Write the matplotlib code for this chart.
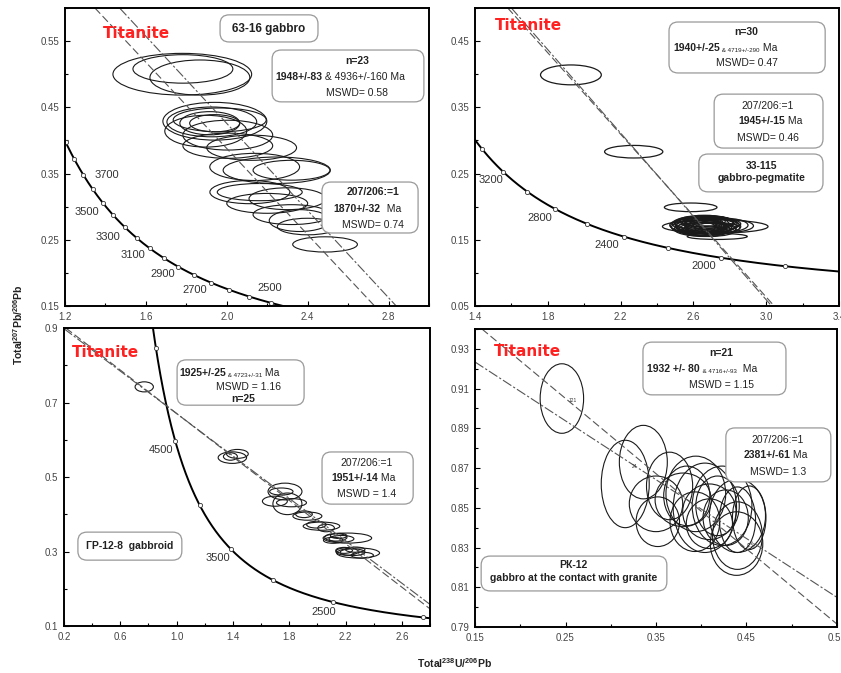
import numpy as np
import matplotlib
matplotlib.use("Agg")
import matplotlib.pyplot as plt
from matplotlib.patches import Ellipse, FancyBboxPatch

plt.rcParams['font.family'] = ['Liberation Sans', 'DejaVu Sans']
plt.rcParams['mathtext.default'] = 'regular'

# decay constants (1/Ma) and present day 238U/235U
L238 = 1.55125e-4
L235 = 9.8485e-4
U_RATIO = 137.88
CURVE_AGES = np.arange(500, 5600, 5)

# ---------------- 63-16 gabbro ----------------
tl_x = [1.780, 1.783, 1.867, 1.941, 1.926, 1.916, 1.940, 1.896, 2.005, 1.965, 2.005, 2.123,
        2.138, 2.247, 2.320, 2.114, 2.163, 2.300, 2.320, 2.360, 2.486, 2.200, 2.400]
tl_y = [0.500, 0.508, 0.495, 0.429, 0.428, 0.426, 0.426, 0.414, 0.408, 0.431, 0.392, 0.389,
        0.360, 0.355, 0.355, 0.322, 0.322, 0.312, 0.288, 0.279, 0.243, 0.305, 0.270]
tl_w = [0.686, 0.494, 0.494, 0.514, 0.444, 0.296, 0.247, 0.405, 0.444, 0.460, 0.444, 0.444,
        0.444, 0.530, 0.380, 0.395, 0.420, 0.380, 0.380, 0.300, 0.320, 0.400, 0.300]
tl_h = [0.063, 0.043, 0.053, 0.057, 0.045, 0.035, 0.026, 0.048, 0.045, 0.036, 0.038, 0.038,
        0.041, 0.040, 0.030, 0.035, 0.026, 0.033, 0.030, 0.033, 0.023, 0.030, 0.025]
tl_lines = [((1.348, 0.60), (2.731, 0.15)), ((1.470, 0.60), (2.838, 0.15))]
tl_marks = list(range(2300, 4001, 100))
tl_labels = [3700, 3500, 3300, 3100, 2900, 2700, 2500]
tl_label_off = [(17, 0), (-11.5, -6.5), (-12, -7), (-12, -5), (-11.5, -5), (-11.5, -5), (14.5, 6.5)]

# ---------------- 33-115 gabbro-pegmatite ----------------
tr_x = [1.927, 2.272, 2.585, 2.731, 2.72,
        2.62, 2.64, 2.66, 2.68, 2.70, 2.63, 2.65, 2.67, 2.69, 2.72, 2.60, 2.75, 2.66,
        2.68, 2.64, 2.70, 2.62, 2.73, 2.67, 2.65, 2.69, 2.71, 2.66, 2.63, 2.78]
tr_y = [0.399, 0.283, 0.199, 0.155, 0.170,
        0.172, 0.170, 0.175, 0.168, 0.173, 0.166, 0.178, 0.171, 0.165, 0.174, 0.169, 0.172, 0.163,
        0.176, 0.174, 0.167, 0.171, 0.168, 0.173, 0.169, 0.177, 0.170, 0.166, 0.175, 0.171]
tr_w = [0.334, 0.320, 0.289, 0.330, 0.580,
        0.30, 0.28, 0.32, 0.26, 0.30, 0.27, 0.25, 0.33, 0.29, 0.28, 0.24, 0.30, 0.26,
        0.28, 0.31, 0.27, 0.29, 0.25, 0.34, 0.27, 0.26, 0.30, 0.28, 0.27, 0.30]
tr_h = [0.030, 0.019, 0.013, 0.009, 0.020,
        0.022, 0.020, 0.024, 0.018, 0.022, 0.020, 0.016, 0.024, 0.020, 0.018, 0.020, 0.022, 0.016,
        0.020, 0.024, 0.018, 0.022, 0.016, 0.026, 0.020, 0.018, 0.022, 0.020, 0.018, 0.020]
tr_lines = [((1.58, 0.50), (3.044, 0.05)), ((1.60, 0.50), (3.03, 0.05))]
tr_marks = list(range(1600, 3401, 200))
tr_labels = [3200, 2800, 2400, 2000]
tr_label_off = [(-9, -6), (-11, -6.5), (-12, -6), (-12, -6)]

# ---------------- GR-12-8 gabbroid ----------------
bl_x = [0.770, 1.396, 1.432, 1.382, 1.770, 1.787, 1.698, 1.816, 1.744, 1.929, 1.905, 2.029, 2.062,
        1.993, 2.213, 2.131, 2.171, 2.112, 2.151, 2.289, 2.210, 2.250, 2.190, 2.269, 2.319]
bl_y = [0.742, 0.552, 0.562, 0.555, 0.461, 0.428, 0.435, 0.431, 0.461, 0.395, 0.400, 0.368, 0.363,
        0.372, 0.336, 0.338, 0.334, 0.330, 0.342, 0.296, 0.300, 0.298, 0.303, 0.305, 0.290]
bl_w = [0.130, 0.202, 0.154, 0.099, 0.241, 0.206, 0.177, 0.213, 0.166, 0.206, 0.118, 0.260, 0.118,
        0.138, 0.345, 0.158, 0.177, 0.138, 0.118, 0.305, 0.158, 0.177, 0.118, 0.138, 0.158]
bl_h = [0.027, 0.031, 0.024, 0.020, 0.045, 0.058, 0.027, 0.022, 0.019, 0.022, 0.018, 0.022, 0.020,
        0.018, 0.027, 0.020, 0.018, 0.016, 0.014, 0.027, 0.020, 0.018, 0.016, 0.014, 0.016]
bl_lines = [((0.0, 0.962), (2.8, 0.146)), ((0.0, 0.955), (2.8, 0.158))]
bl_marks = list(range(2000, 5001, 500))
bl_labels = [4500, 3500, 2500]
bl_label_off = [(-10, -6.5), (-9.5, -6.5), (-7, -7)]

# ---------------- PK-12 gabbro at the contact with granite ----------------
br_x = [0.246, 0.316, 0.336, 0.350, 0.365, 0.352, 0.394, 0.404, 0.409, 0.423, 0.440,
        0.440, 0.439, 0.393, 0.409, 0.440, 0.453, 0.384, 0.418, 0.380, 0.427]
br_y = [0.905, 0.862, 0.873, 0.852, 0.861, 0.843, 0.857, 0.850, 0.848, 0.851, 0.846,
        0.836, 0.832, 0.843, 0.842, 0.844, 0.845, 0.856, 0.851, 0.854, 0.845]
br_w = [0.048, 0.053, 0.053, 0.059, 0.051, 0.048, 0.066, 0.070, 0.059, 0.066, 0.062,
        0.055, 0.058, 0.055, 0.051, 0.040, 0.037, 0.051, 0.048, 0.062, 0.050]
br_h = [0.035, 0.044, 0.037, 0.028, 0.034, 0.025, 0.038, 0.045, 0.028, 0.040, 0.037,
        0.034, 0.032, 0.030, 0.025, 0.033, 0.032, 0.030, 0.030, 0.027, 0.028]
br_lines = [((0.159, 0.9395), (0.547, 0.7926)), ((0.152, 0.9228), (0.547, 0.8058))]
br_spot_ids = ['121', '24', '(25)']
br_spot_x = [0.258, 0.326, 0.455]
br_spot_y = [0.904, 0.871, 0.831]

BOX_FS = 7.5


def concordia(t):
    e8 = np.exp(L238 * np.asarray(t, dtype=float)) - 1.0
    e5 = np.exp(L235 * np.asarray(t, dtype=float)) - 1.0
    return 1.0 / e8, e5 / (U_RATIO * e8)


def setup(ax, xlim, ylim, xt, yt, xminor, yminor):
    ax.set_xlim(xlim)
    ax.set_ylim(ylim)
    ax.set_xticks(xt)
    ax.set_yticks(yt)
    ax.set_xticks(xminor, minor=True)
    ax.set_yticks(yminor, minor=True)
    ax.tick_params(which='both', direction='in', top=False, right=False,
                   labelsize=7, labelcolor='#444', pad=4, width=0.8)
    ax.tick_params(which='major', length=3.5)
    ax.tick_params(which='minor', length=2)
    for s in ax.spines.values():
        s.set_linewidth(1.4)


def draw_ellipses(ax, xs, ys, ws, hs, lw=0.8):
    for cx, cy, w, h in zip(xs, ys, ws, hs):
        ax.add_patch(Ellipse((cx, cy), w, h, fill=False, ec='#1a1a1a', lw=lw))


def draw_lines(ax, lines):
    ax.axline(lines[0][0], lines[0][1], color='#555', lw=0.8, ls=(0, (7, 3)))
    ax.axline(lines[1][0], lines[1][1], color='#555', lw=0.8, ls=(0, (9, 2, 2, 2)))


def draw_concordia(ax, marks, labels, offsets):
    cx, cy = concordia(CURVE_AGES)
    ax.plot(cx, cy, color='black', lw=1.4)
    mx, my = concordia(marks)
    ax.plot(mx, my, 'o', ms=3, mfc='white', mec='#333', mew=0.6)
    for age, off in zip(labels, offsets):
        px, py = concordia(age)
        ax.annotate(str(age), (px, py), xytext=off, textcoords='offset points',
                    ha='center', va='center', fontsize=8, color='#333')


def box(ax, x0, y0, x1, y1):
    ax.add_patch(FancyBboxPatch((x0, y0), x1 - x0, y1 - y0, transform=ax.transAxes,
                                boxstyle='round,pad=0,rounding_size=0.025',
                                mutation_aspect=1.2, fc='white', ec='#999', lw=0.9, zorder=5))


def line(ax, x, y, s, bold=False, size=BOX_FS, ha='center'):
    return ax.text(x, y, s, transform=ax.transAxes, ha=ha, va='center', fontsize=size,
                   fontweight='bold' if bold else 'normal', color='#222', zorder=6)


def parts(ax, x, y, segs):
    # segments drawn one after another: (text, bold, size)
    t = ax.text(x, y, segs[0][0], transform=ax.transAxes, ha='left', va='baseline',
                fontsize=segs[0][2], fontweight='bold' if segs[0][1] else 'normal',
                color='#222', zorder=6)
    for s, b, sz in segs[1:]:
        t = ax.annotate(s, xy=(1, 0), xycoords=t, ha='left', va='bottom', fontsize=sz,
                        fontweight='bold' if b else 'normal', color='#222', zorder=6)


def titanite(ax, x, y):
    ax.text(x, y, 'Titanite', transform=ax.transAxes, ha='center', va='center',
            fontsize=11, fontweight='bold', color='#ff2020', family='DejaVu Sans', zorder=6)


fig = plt.figure(figsize=(8.41, 6.73), dpi=100)

# top left
ax = fig.add_axes([65 / 841, 1 - 306 / 673, 364 / 841, 298 / 673])
setup(ax, (1.2, 3.0), (0.15, 0.60), [1.2, 1.6, 2.0, 2.4, 2.8], [0.15, 0.25, 0.35, 0.45, 0.55],
      np.arange(1.2, 3.01, 0.2), np.arange(0.15, 0.601, 0.05))
ax.set_xticklabels(['1.2', '1.6', '2.0', '2.4', '2.8'])
draw_concordia(ax, tl_marks, tl_labels, tl_label_off)
draw_lines(ax, tl_lines)
draw_ellipses(ax, tl_x, tl_y, tl_w, tl_h)
titanite(ax, 0.195, 0.916)
box(ax, 0.426, 0.886, 0.695, 0.977)
line(ax, 0.560, 0.931, '63-16 gabbro', bold=True, size=8.5)
box(ax, 0.569, 0.685, 0.986, 0.859)
line(ax, 0.802, 0.822, 'n=23', bold=True)
parts(ax, 0.578, 0.757, [('1948+/-83', True, BOX_FS), (' & 4936+/-160 Ma', False, BOX_FS)])
line(ax, 0.802, 0.715, 'MSWD= 0.58')
box(ax, 0.706, 0.245, 0.970, 0.416)
line(ax, 0.846, 0.383, '207/206:=1', bold=True)
parts(ax, 0.738, 0.315, [('1870+/-32', True, BOX_FS), ('  Ma', False, BOX_FS)])
line(ax, 0.846, 0.272, 'MSWD= 0.74')

# top right
ax = fig.add_axes([475 / 841, 1 - 306 / 673, 364 / 841, 298 / 673])
setup(ax, (1.4, 3.4), (0.05, 0.50), [1.4, 1.8, 2.2, 2.6, 3.0, 3.4], [0.05, 0.15, 0.25, 0.35, 0.45],
      np.arange(1.4, 3.41, 0.2), np.arange(0.05, 0.501, 0.05))
ax.set_xticklabels(['1.4', '1.8', '2.2', '2.6', '3.0', '3.4'])
draw_concordia(ax, tr_marks, tr_labels, tr_label_off)
draw_lines(ax, tr_lines)
draw_ellipses(ax, tr_x, tr_y, tr_w, tr_h, lw=0.9)
titanite(ax, 0.146, 0.940)
box(ax, 0.533, 0.782, 0.962, 0.953)
line(ax, 0.746, 0.919, 'n=30', bold=True)
parts(ax, 0.545, 0.855, [('1940+/-25', True, BOX_FS), (' & 4719+/-290', False, 4.5), (' Ma', False, BOX_FS)])
line(ax, 0.746, 0.815, 'MSWD= 0.47')
box(ax, 0.657, 0.530, 0.956, 0.711)
line(ax, 0.805, 0.671, '207/206:=1')
parts(ax, 0.723, 0.610, [('1945+/-15', True, BOX_FS), (' Ma', False, BOX_FS)])
line(ax, 0.805, 0.564, 'MSWD= 0.46')
box(ax, 0.615, 0.383, 0.956, 0.510)
line(ax, 0.788, 0.470, '33-115', bold=True, size=7.5)
line(ax, 0.788, 0.430, 'gabbro-pegmatite', bold=True, size=7.5)

# bottom left
ax = fig.add_axes([64 / 841, 1 - 626 / 673, 366 / 841, 298 / 673])
setup(ax, (0.2, 2.8), (0.1, 0.9), [0.2, 0.6, 1.0, 1.4, 1.8, 2.2, 2.6], [0.1, 0.3, 0.5, 0.7, 0.9],
      np.arange(0.2, 2.81, 0.2), np.arange(0.1, 0.91, 0.1))
ax.set_xticklabels(['0.2', '0.6', '1.0', '1.4', '1.8', '2.2', '2.6'])
draw_concordia(ax, bl_marks, bl_labels, bl_label_off)
draw_lines(ax, bl_lines)
draw_ellipses(ax, bl_x, bl_y, bl_w, bl_h)
titanite(ax, 0.112, 0.919)
box(ax, 0.309, 0.741, 0.656, 0.893)
parts(ax, 0.315, 0.838, [('1925+/-25', True, BOX_FS), (' & 4723+/-31', False, 4.5), (' Ma', False, BOX_FS)])
line(ax, 0.503, 0.802, 'MSWD = 1.16')
line(ax, 0.490, 0.762, 'n=25', bold=True)
box(ax, 0.705, 0.409, 0.954, 0.584)
line(ax, 0.827, 0.547, '207/206:=1')
parts(ax, 0.730, 0.486, [('1951+/-14', True, BOX_FS), (' Ma', False, BOX_FS)])
line(ax, 0.827, 0.443, 'MSWD = 1.4')
box(ax, 0.038, 0.221, 0.322, 0.315)
line(ax, 0.180, 0.268, 'ГР-12-8  gabbroid', bold=True, size=7.5)

# bottom right
ax = fig.add_axes([475 / 841, 1 - 627 / 673, 362 / 841, 298 / 673])
setup(ax, (0.15, 0.55), (0.79, 0.94), [0.15, 0.25, 0.35, 0.45, 0.55],
      [0.79, 0.81, 0.83, 0.85, 0.87, 0.89, 0.91, 0.93],
      np.arange(0.15, 0.551, 0.05), np.arange(0.79, 0.941, 0.01))
draw_lines(ax, br_lines)
draw_ellipses(ax, br_x, br_y, br_w, br_h)
for s, x, y in zip(br_spot_ids, br_spot_x, br_spot_y):
    ax.text(x, y, s, fontsize=3.5, color='#333', ha='center', va='center')
titanite(ax, 0.146, 0.926)
box(ax, 0.464, 0.779, 0.859, 0.956)
line(ax, 0.681, 0.919, 'n=21', bold=True)
parts(ax, 0.474, 0.855, [('1932 +/- 80', True, BOX_FS), ('  & 4716+/-93', False, 4.5), ('  Ma', False, BOX_FS)])
line(ax, 0.680, 0.812, 'MSWD = 1.15')
box(ax, 0.693, 0.487, 0.983, 0.668)
line(ax, 0.837, 0.628, '207/206:=1')
parts(ax, 0.742, 0.566, [('2381+/-61', True, BOX_FS), (' Ma', False, BOX_FS)])
line(ax, 0.837, 0.520, 'MSWD= 1.3')
box(ax, 0.017, 0.121, 0.530, 0.238)
line(ax, 0.273, 0.208, 'РК-12', bold=True, size=7.5)
line(ax, 0.273, 0.164, 'gabbro at the contact with granite', bold=True, size=7.5)

fig.text(0.021, 0.517, 'Total$^{207}$Pb/$^{206}$Pb', rotation=90, ha='center', va='center',
         fontsize=7.5, fontweight='bold', color='#222')
fig.text(0.541, 0.015, 'Total$^{238}$U/$^{206}$Pb', ha='center', va='center',
         fontsize=7.5, fontweight='bold', color='#222')

fig.savefig('out.png', dpi=100)
